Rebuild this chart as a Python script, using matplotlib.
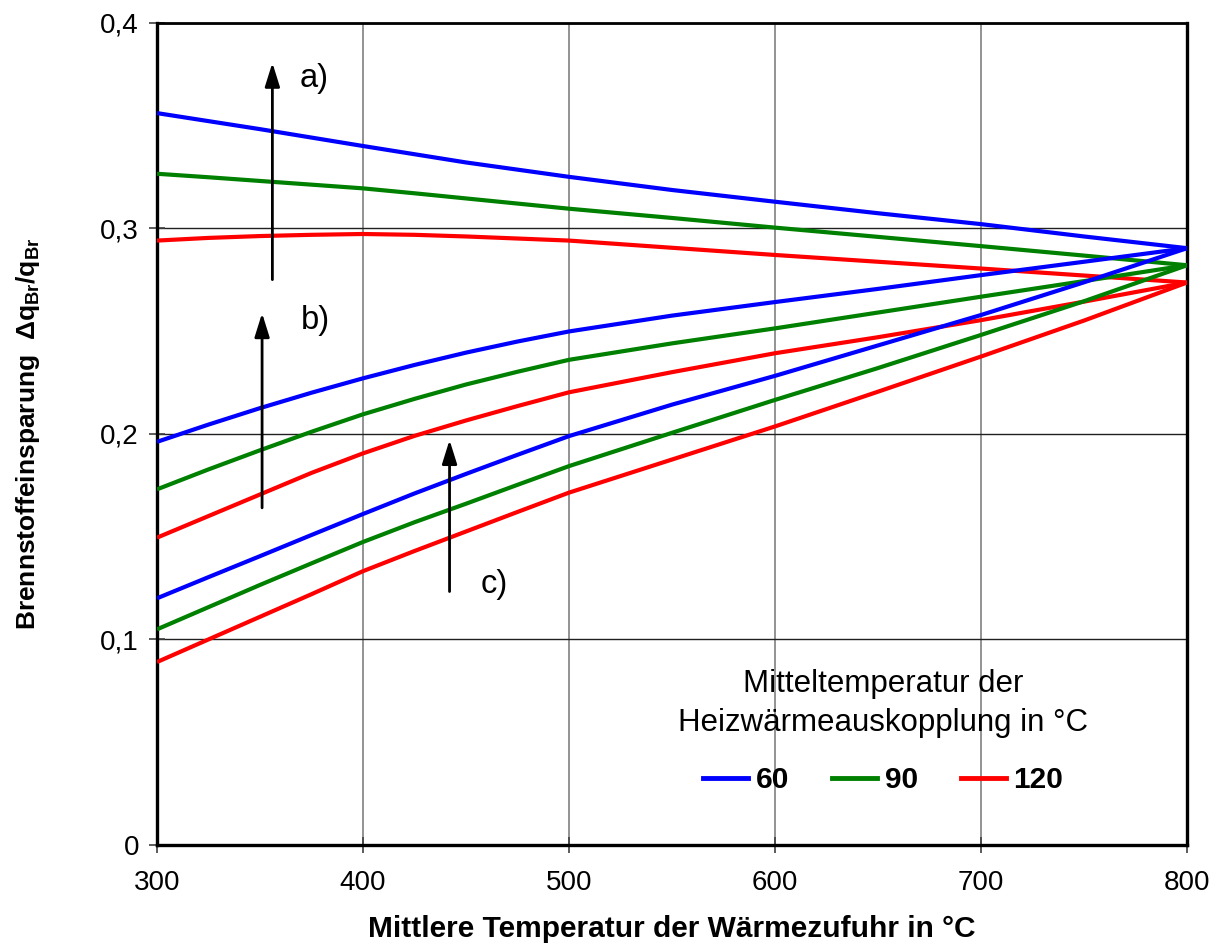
import matplotlib
matplotlib.use("Agg")
import matplotlib.pyplot as plt
from matplotlib.lines import Line2D

plt.rcParams['font.family'] = ['Liberation Sans', 'DejaVu Sans']
plt.rcParams['mathtext.fontset'] = 'custom'
plt.rcParams['mathtext.rm'] = 'Liberation Sans'
plt.rcParams['mathtext.bf'] = 'Liberation Sans:bold'
plt.rcParams['mathtext.it'] = 'Liberation Sans:italic'

# Mittlere Temperatur der Wärmezufuhr in °C
temp = [300, 325, 350, 375, 400, 425, 450, 475, 500, 550, 600, 650, 700, 750, 800]

# Kurvenschar a)
a_60 = [0.356, 0.3521, 0.3482, 0.3441, 0.340, 0.336, 0.332, 0.3285, 0.325,
        0.3186, 0.3129, 0.3073, 0.302, 0.296, 0.2903]
a_90 = [0.3265, 0.3248, 0.323, 0.3212, 0.3194, 0.317, 0.3145, 0.312, 0.3095,
        0.305, 0.3003, 0.2958, 0.2913, 0.2867, 0.282]
a_120 = [0.294, 0.2953, 0.2962, 0.2968, 0.2972, 0.2968, 0.296, 0.295, 0.294,
         0.2905, 0.287, 0.2837, 0.2804, 0.277, 0.2736]

# Kurvenschar b)
b_60 = [0.1961, 0.2045, 0.2125, 0.220, 0.227, 0.2335, 0.2395, 0.2449, 0.2498,
        0.2575, 0.2641, 0.2705, 0.2772, 0.2837, 0.2903]
b_90 = [0.173, 0.1827, 0.192, 0.201, 0.2095, 0.217, 0.224, 0.2302, 0.236,
        0.244, 0.2513, 0.259, 0.2667, 0.2743, 0.282]
b_120 = [0.1495, 0.160, 0.1705, 0.181, 0.1905, 0.199, 0.2065, 0.2135, 0.2202,
         0.230, 0.2392, 0.247, 0.2553, 0.2643, 0.2736]

# Kurvenschar c)
c_60 = [0.120, 0.1303, 0.1405, 0.1508, 0.161, 0.171, 0.1805, 0.1898, 0.1989,
        0.2142, 0.2282, 0.243, 0.2578, 0.2737, 0.2903]
c_90 = [0.1049, 0.1157, 0.1265, 0.137, 0.1474, 0.157, 0.166, 0.1752, 0.1843,
        0.2005, 0.2165, 0.232, 0.2481, 0.2645, 0.282]
c_120 = [0.089, 0.100, 0.111, 0.122, 0.1332, 0.143, 0.1525, 0.162, 0.1714,
         0.1875, 0.2036, 0.2205, 0.2376, 0.2551, 0.2736]

series_labels = ['60', '90', '120']
series_colors = ['#0000FF', '#008000', '#FF0000']

x_ticks = [300, 400, 500, 600, 700, 800]
y_ticks = [0, 0.1, 0.2, 0.3, 0.4]
y_ticklabels = ['0', '0,1', '0,2', '0,3', '0,4']

# Pfeile (x, y_start, y_end) und Beschriftungen (x, y, text)
arrows = [(356, 0.275, 0.3805), (351, 0.164, 0.2587), (442, 0.1233, 0.197)]
arrow_labels = [(369, 0.373, 'a)'), (370, 0.2553, 'b)'), (457, 0.1267, 'c)')]

fig = plt.figure(figsize=(12.2, 9.52), dpi=100)
ax = fig.add_axes([0.1287, 0.1124, 0.8443, 0.8638])

for group in ((a_60, a_90, a_120), (b_60, b_90, b_120), (c_60, c_90, c_120)):
    for vals, col in zip(group, series_colors):
        ax.plot(temp, vals, color=col, lw=3, solid_capstyle='butt',
                solid_joinstyle='round', zorder=3)

ax.set_xlim(300, 800)
ax.set_ylim(0, 0.4)
ax.set_xticks(x_ticks)
ax.set_xticklabels([str(t) for t in x_ticks])
ax.set_yticks(y_ticks)
ax.set_yticklabels(y_ticklabels)

ax.xaxis.grid(True, color='#808080', lw=1.2, zorder=1)
ax.yaxis.grid(True, color='#202020', lw=1.0, zorder=1)
ax.set_axisbelow(True)

for side in ('left', 'bottom', 'right'):
    ax.spines[side].set_linewidth(2.4)
    ax.spines[side].set_color('black')
ax.spines['top'].set_linewidth(2.0)
ax.spines['top'].set_color('black')

ax.tick_params(axis='x', direction='inout', length=12, width=1.2, color='#404040',
               labelsize=20, pad=12)
ax.tick_params(axis='y', direction='inout', length=12, width=1.2, color='#404040',
               labelsize=20, pad=7)

ax.set_xlabel('Mittlere Temperatur der Wärmezufuhr in °C', fontsize=21.5,
              fontweight='bold', labelpad=14)
ax.set_ylabel(r'Brennstoffeinsparung  Δ$\mathbf{q_{Br}/q_{Br}}$', fontsize=19,
              fontweight='bold', labelpad=42)

for (x, y0, y1) in arrows:
    ax.annotate('', xy=(x, y1), xytext=(x, y0),
                arrowprops=dict(arrowstyle='-|>,head_length=0.8,head_width=0.25',
                                color='black', lw=2.0, mutation_scale=18,
                                shrinkA=0, shrinkB=0), zorder=4)
for (x, y, t) in arrow_labels:
    ax.text(x, y, t, fontsize=23.5, ha='left', va='center', zorder=4)

handles = [Line2D([0], [0], color=c, lw=3.5) for c in series_colors]
leg = ax.legend(handles, series_labels, ncol=3, frameon=False,
                title='Mitteltemperatur der\nHeizwärmeauskopplung in °C',
                title_fontsize=22.5, loc='center', bbox_to_anchor=(0.705, 0.138),
                handlelength=1.5, handletextpad=0.25, columnspacing=1.45,
                prop={'size': 21.5, 'weight': 'bold'})
leg.get_title().set_multialignment('center')
leg.get_title().set_linespacing(1.4)
leg._legend_box.sep = 20

fig.savefig('out.png', dpi=100)
